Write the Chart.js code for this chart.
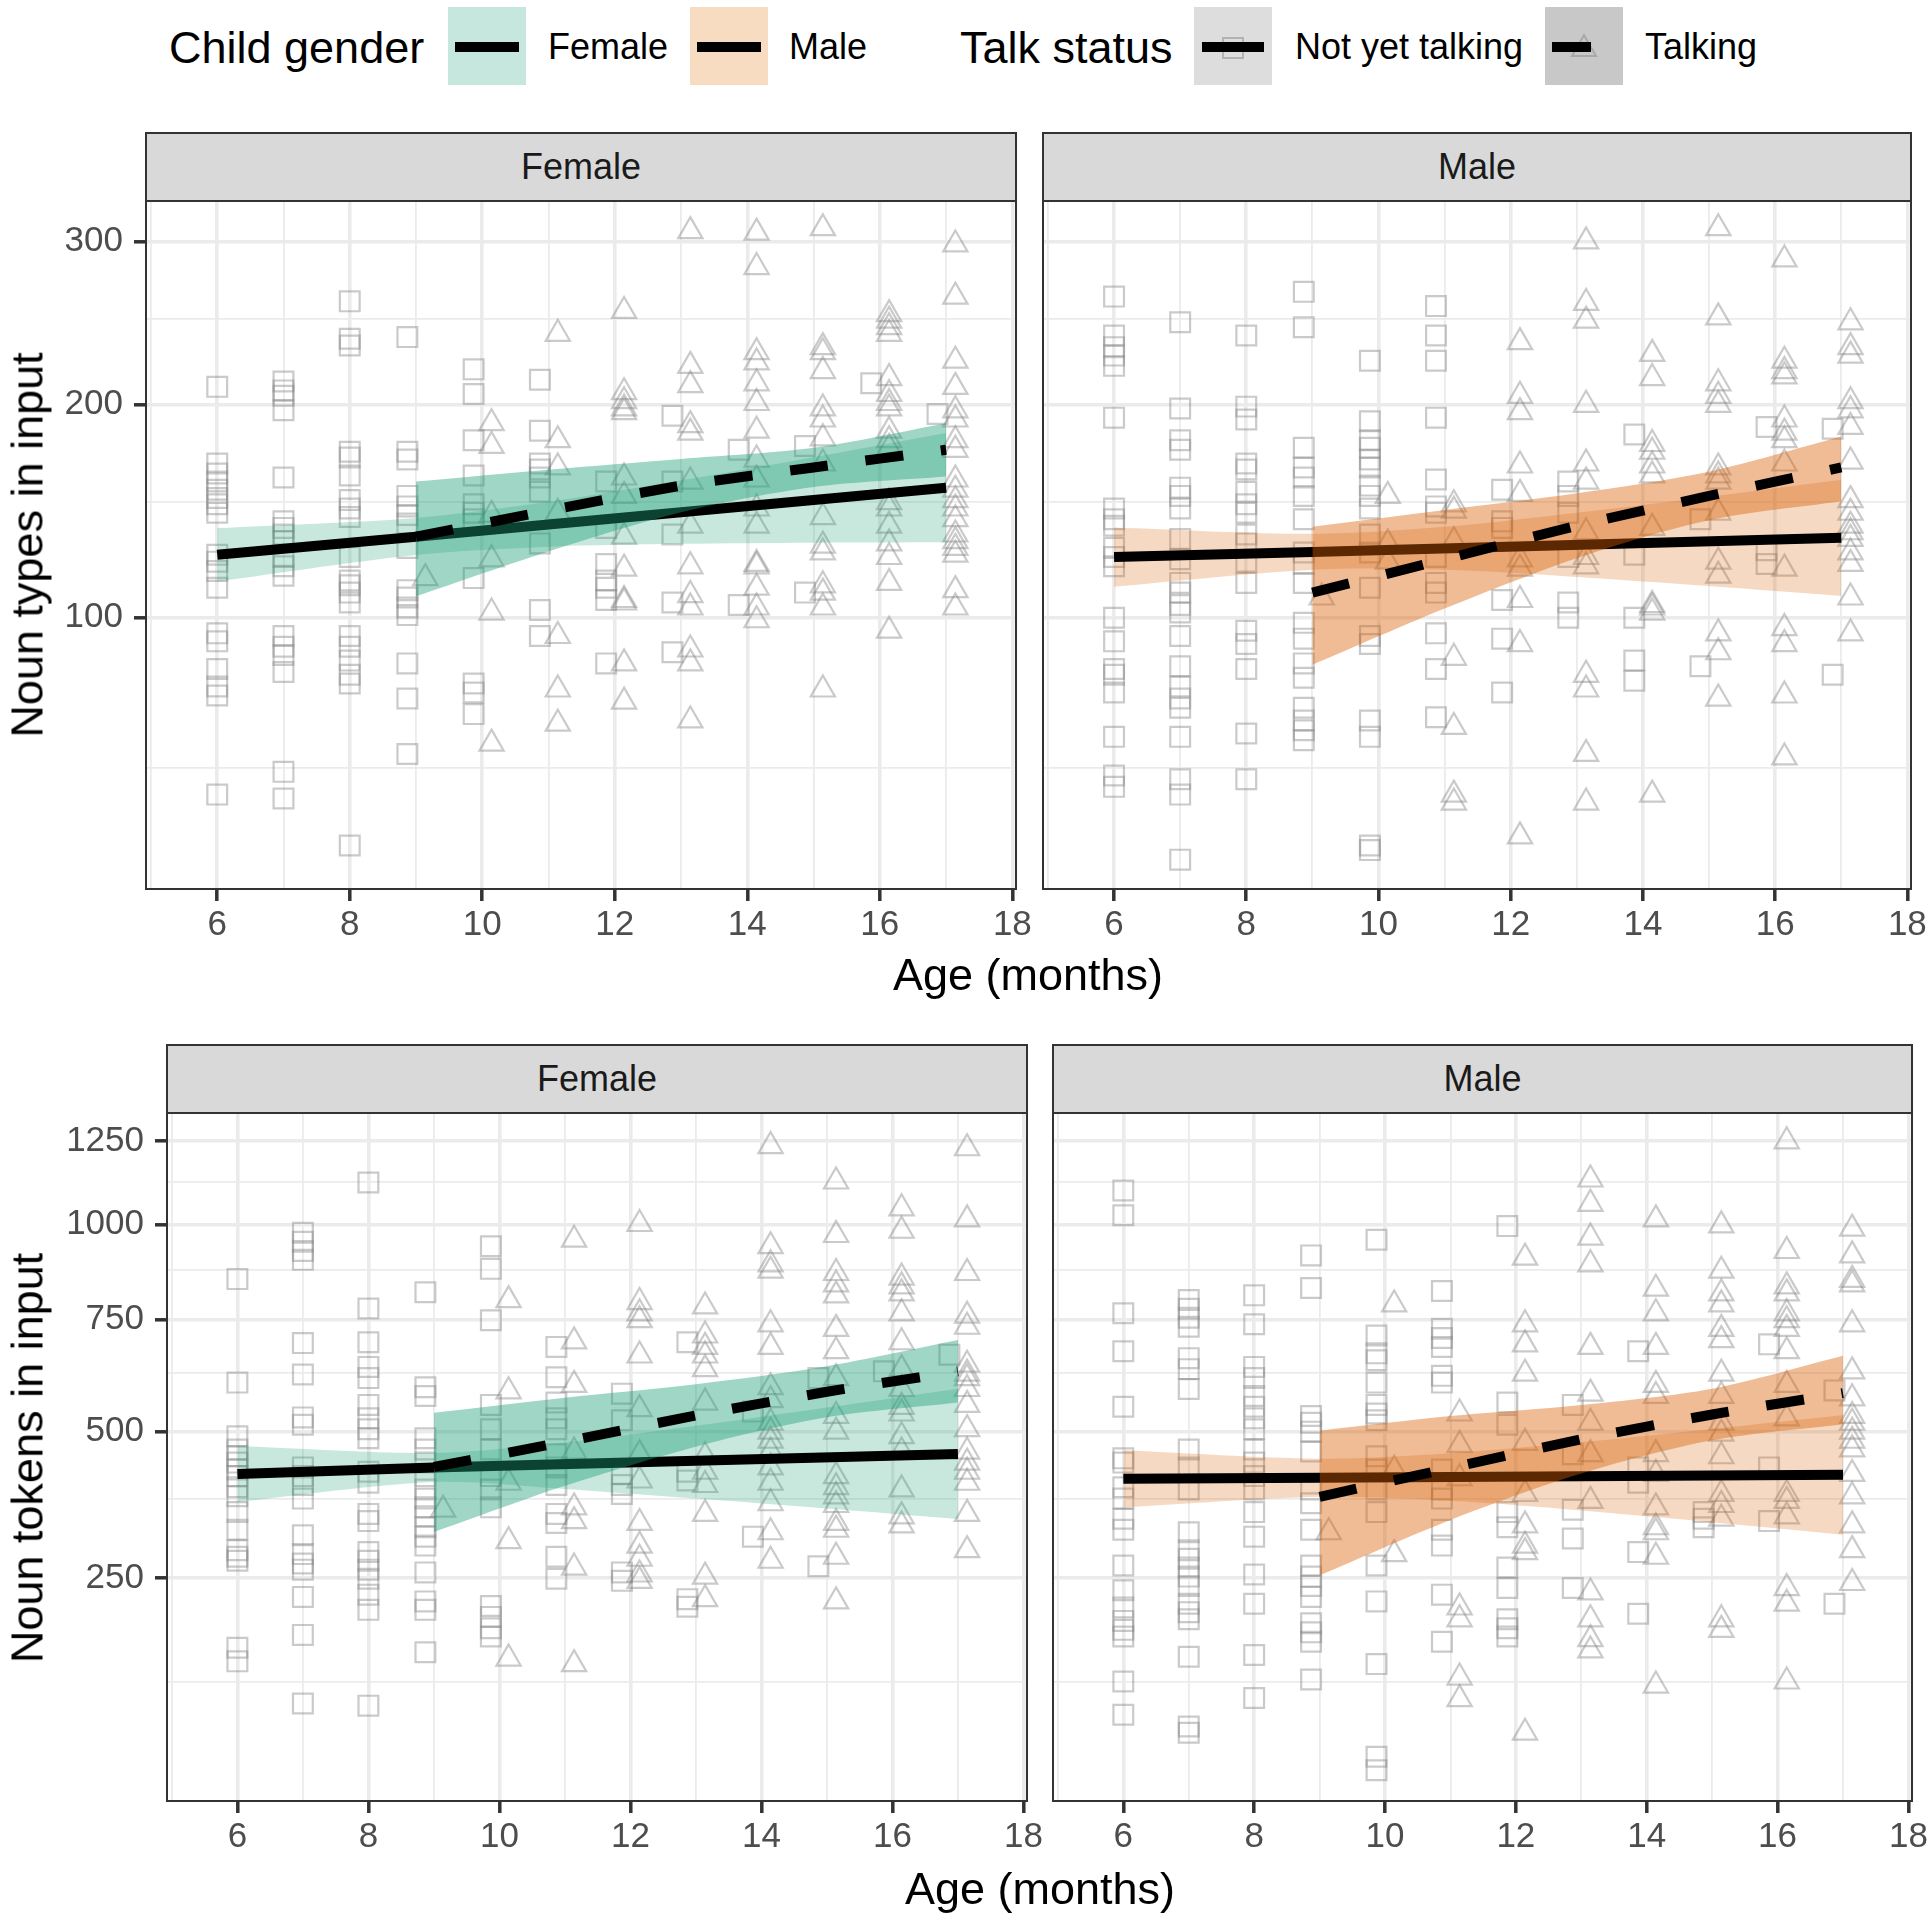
<!DOCTYPE html>
<html>
<head>
<meta charset="utf-8">
<script src="https://cdn.jsdelivr.net/npm/chart.js@4.4.0/dist/chart.umd.min.js"></script>
<style>
  html, body { margin: 0; padding: 0; background: #fff; }
  #page { position: relative; width: 1931px; height: 1920px; overflow: hidden; font-family: "Liberation Sans", Arial, sans-serif; }
  canvas { position: absolute; }
  .txt { position: absolute; white-space: nowrap; line-height: 1; transform: translate(0, -50%); color: #000; }
  .center { transform: translate(-50%, -50%); }
  .rot { transform: translate(-50%, -50%) rotate(-90deg); }
  .strip { position: absolute; background: #d9d9d9; border: 2px solid #333; box-sizing: border-box;
           display: flex; align-items: center; justify-content: center; font-size: 36px; color: #1a1a1a; }
  .key { position: absolute; top: 7px; width: 78px; height: 78px; }
  .bar { position: absolute; top: 42px; height: 10px; background: #000; }
</style>
</head>
<body>
<div id="page">
  <!-- legend -->
  <div class="txt" style="left:169px; top:47px; font-size:45px;">Child gender</div>
  <div class="key" style="left:448px; background:#c5e7dd;"></div>
  <div class="bar" style="left:455px; width:64px;"></div>
  <div class="txt" style="left:548px; top:47px; font-size:36px;">Female</div>
  <div class="key" style="left:690px; background:#f8dcc2;"></div>
  <div class="bar" style="left:697px; width:64px;"></div>
  <div class="txt" style="left:789px; top:47px; font-size:36px;">Male</div>

  <div class="txt" style="left:960px; top:47px; font-size:45px;">Talk status</div>
  <div class="key" style="left:1194px; background:#dddddd;"></div>
  <svg style="position:absolute; left:1221px; top:36px;" width="24" height="24">
    <rect x="2" y="2" width="20" height="20" fill="none" stroke="rgba(128,128,128,0.45)" stroke-width="2"/>
  </svg>
  <div class="bar" style="left:1202px; width:62px;"></div>
  <div class="txt" style="left:1295px; top:47px; font-size:36px;">Not yet talking</div>
  <div class="key" style="left:1545px; background:#c8c8c8;"></div>
  <svg style="position:absolute; left:1569px; top:32px;" width="30" height="28">
    <polygon points="15,3 27,24 3,24" fill="none" stroke="rgba(128,128,128,0.45)" stroke-width="2"/>
  </svg>
  <div class="bar" style="left:1552px; width:39px;"></div>
  <div class="txt" style="left:1645px; top:47px; font-size:36px;">Talking</div>

  <!-- strips -->
  <div class="strip" style="left:145px; top:132px; width:872px; height:70px;">Female</div>
  <div class="strip" style="left:1042px; top:132px; width:870px; height:70px;">Male</div>
  <div class="strip" style="left:166px; top:1044px; width:862px; height:70px;">Female</div>
  <div class="strip" style="left:1052px; top:1044px; width:861px; height:70px;">Male</div>

  <canvas id="tl" width="1057" height="800" style="left:0px; top:160px;"></canvas>
  <canvas id="tr" width="889" height="760" style="left:1042px; top:200px;"></canvas>
  <canvas id="bl" width="1068" height="800" style="left:0px; top:1072px;"></canvas>
  <canvas id="br" width="879" height="760" style="left:1052px; top:1112px;"></canvas>

  <!-- axis titles -->
  <div class="txt rot" style="left:27px; top:545px; font-size:45px;">Noun types in input</div>
  <div class="txt center" style="left:1028px; top:974px; font-size:45px;">Age (months)</div>
  <div class="txt rot" style="left:27px; top:1458px; font-size:45px;">Noun tokens in input</div>
  <div class="txt center" style="left:1040px; top:1888px; font-size:45px;">Age (months)</div>
</div>

<script>
const FONT = "'Liberation Sans', Arial, sans-serif";

// axis ticks
const xMajorTicks = [6, 8, 10, 12, 14, 16, 18];
const xMinorTicks = [5, 7, 9, 11, 13, 15, 17];
const typesMajorTicks = [100, 200, 300];
const typesMinorTicks = [50, 150, 250];
const tokensMajorTicks = [250, 500, 750, 1000, 1250];
const tokensMinorTicks = [125, 375, 625, 875, 1125];

// ages where the fitted lines / ribbons are given
const lineAgesNotYet = [6, 9, 17];
const lineAgesTalking = [9, 11, 13, 15, 17];
const bandAgesNotYet = [6, 9, 11, 13, 15, 17];
const bandAgesTalking = [9, 11, 13, 15, 17];

// ---- noun types, female ----
const typesFemaleNotYet = [
  [6, [210, 169, 164, 160, 156, 152, 149, 145, 126, 123, 119, 112, 94, 91, 81, 75, 72, 43]],
  [7, [213, 208, 205, 197, 162, 141, 138, 135, 132, 125, 121, 117, 93, 89, 86, 80, 49, 42]],
  [8, [261, 238, 234, 175, 172, 163, 151, 147, 143, 125, 115, 113, 110, 106, 93, 89, 84, 79, 76, 31]],
  [9, [239, 175, 171, 153, 148, 144, 140, 129, 111, 108, 104, 101, 83, 71, 54]],
  [10, [220, 206, 181, 163, 149, 145, 142, 116, 76, 73, 66]],
  [11, [214, 186, 169, 166, 162, 155, 131, 103, 93]],
  [12, [160, 138, 122, 115, 112, 107, 83]],
  [13, [194, 160, 135, 106, 87]],
  [14, [176, 105]],
  [15, [178, 110]],
  [16, [212]],
  [17, [195]]
];
const typesFemaleTalking = [
  [9, [116]],
  [10, [190, 178, 144, 124, 102, 57]],
  [11, [241, 181, 167, 145, 93, 74, 63]],
  [12, [255, 207, 202, 198, 196, 162, 153, 134, 120, 107, 106, 83, 70]],
  [13, [307, 222, 211, 189, 185, 160, 139, 121, 109, 104, 88, 83, 64]],
  [14, [306, 283, 230, 224, 212, 201, 186, 171, 161, 147, 139, 122, 121, 112, 104, 99]],
  [15, [309, 233, 230, 219, 198, 192, 182, 169, 143, 130, 127, 113, 110, 104, 74]],
  [16, [253, 249, 245, 241, 215, 206, 201, 198, 186, 181, 177, 150, 147, 139, 131, 125, 114, 95]],
  [17, [298, 264, 225, 210, 197, 192, 181, 176, 161, 156, 151, 147, 142, 135, 132, 129, 126, 111, 104]]
];
const typesFemaleLineNotYet = [126, 134, 157];
const typesFemaleLineTalking = [134, 146, 158, 167, 176];
const typesFemaleBandNotYetLo = [114.6, 125.9, 129.5, 130.8, 131.3, 131.5];
const typesFemaleBandNotYetHi = [137.9, 142.6, 150.2, 160.6, 172.2, 184.8];
const typesFemaleBandTalkingLo = [108.5, 127.4, 145.2, 157.3, 162.5];
const typesFemaleBandTalkingHi = [160, 165.9, 171.3, 177, 190];

// ---- noun types, male ----
const typesMaleNotYet = [
  [6, [264, 240, 233, 228, 222, 193, 147, 142, 139, 129, 125, 121, 100, 91, 81, 79, 73, 59, 48, 45]],
  [7, [248, 198, 181, 176, 157, 153, 147, 133, 124, 114, 110, 105, 102, 93, 82, 75, 71, 68, 59, 47, 43, 28]],
  [8, [240, 199, 192, 169, 166, 155, 149, 145, 135, 131, 123, 114, 95, 90, 81, 60, 47]],
  [9, [267, 245, 177, 167, 162, 153, 142, 127, 122, 114, 98, 92, 83, 78, 68, 64, 61, 58]],
  [10, [225, 191, 181, 177, 171, 167, 158, 153, 147, 135, 127, 112, 93, 90, 64, 59, 31, 30]],
  [11, [258, 240, 225, 193, 161, 148, 145, 125, 114, 110, 94, 81, 65]],
  [12, [156, 141, 138, 107, 92, 73]],
  [13, [160, 153, 145, 125, 106, 100]],
  [14, [184, 126, 100, 84, 77]],
  [15, [142, 82]],
  [16, [188, 128, 122]],
  [17, [187, 79]]
];
const typesMaleTalking = [
  [9, [108]],
  [10, [153, 131, 123]],
  [11, [149, 146, 132, 85, 62, 43, 41]],
  [12, [236, 205, 196, 168, 154, 124, 120, 107, 90, 33]],
  [13, [300, 260, 249, 200, 169, 160, 136, 125, 121, 79, 74, 54, 41]],
  [14, [229, 215, 179, 175, 168, 163, 138, 105, 104, 102, 43]],
  [15, [309, 251, 212, 205, 200, 167, 163, 160, 145, 123, 117, 94, 87, 71]],
  [16, [288, 225, 219, 216, 192, 185, 181, 169, 120, 96, 90, 72, 53]],
  [17, [248, 233, 228, 202, 197, 188, 170, 151, 145, 139, 136, 133, 127, 122, 108, 94]]
];
const typesMaleLineNotYet = [125, 127.2, 133.5];
const typesMaleLineTalking = [110, 124, 139, 153, 167];
const typesMaleBandNotYetLo = [112.4, 119.5, 119.5, 116.5, 112.7, 108.6];
const typesMaleBandNotYetHi = [138.2, 135.3, 138.5, 145, 152.6, 160.9];
const typesMaleBandTalkingLo = [82.5, 103.6, 124.5, 141.5, 150.4];
const typesMaleBandTalkingHi = [138.5, 146.3, 154.3, 164.9, 182.9];

// ---- noun tokens, female ----
const tokensFemaleNotYet = [
  [6, [852, 603, 491, 465, 452, 440, 427, 415, 395, 379, 352, 323, 291, 281, 275, 161, 146]],
  [7, [977, 952, 927, 903, 693, 621, 529, 514, 431, 415, 399, 375, 314, 285, 271, 262, 224, 176, 104]],
  [8, [1123, 777, 695, 638, 613, 555, 527, 505, 487, 423, 403, 349, 337, 288, 275, 262, 249, 227, 207, 102]],
  [9, [818, 593, 574, 487, 465, 440, 415, 391, 375, 360, 345, 327, 312, 298, 258, 218, 207, 156]],
  [10, [940, 879, 748, 555, 505, 465, 415, 391, 360, 212, 198, 184, 174]],
  [11, [684, 615, 560, 527, 505, 456, 431, 399, 349, 334, 281, 249]],
  [12, [579, 523, 419, 399, 383, 258, 246]],
  [13, [695, 423, 407, 221, 211]],
  [14, [541, 312]],
  [15, [613, 267]],
  [16, [628]],
  [17, [666]]
];
const tokensFemaleTalking = [
  [9, [356]],
  [10, [798, 584, 403, 305, 149]],
  [11, [958, 697, 598, 461, 360, 337, 265, 143]],
  [12, [1002, 793, 765, 748, 664, 546, 456, 407, 334, 298, 278, 255, 246]],
  [13, [782, 711, 684, 664, 633, 560, 452, 423, 399, 349, 252, 221]],
  [14, [1235, 940, 891, 874, 738, 684, 593, 565, 518, 500, 482, 461, 431, 403, 367, 319, 275]],
  [15, [1126, 971, 868, 838, 810, 727, 674, 613, 532, 500, 415, 395, 379, 364, 334, 323, 281, 218]],
  [16, [1047, 983, 856, 833, 815, 765, 695, 633, 589, 551, 537, 491, 461, 391, 345, 330]],
  [17, [1228, 1015, 868, 759, 732, 643, 623, 613, 589, 555, 505, 461, 440, 423, 403, 349, 291]]
];
const tokensFemaleLineNotYet = [419, 431, 456.5];
const tokensFemaleLineTalking = [432, 480, 533, 583, 628];
const tokensFemaleBandNotYetLo = [369.4, 404.4, 392, 375, 358, 340.3];
const tokensFemaleBandNotYetHi = [471.8, 458.4, 478.5, 511.9, 549.5, 589.8];
const tokensFemaleBandTalkingLo = [319.3, 397.5, 470.5, 529.1, 560];
const tokensFemaleBandTalkingHi = [538.4, 570.3, 599.5, 639.5, 700];

// ---- noun tokens, male ----
const tokensMaleNotYet = [
  [6, [1099, 1027, 765, 674, 551, 448, 440, 395, 375, 341, 323, 268, 233, 210, 193, 182, 174, 125, 94]],
  [7, [798, 776, 754, 732, 658, 633, 589, 465, 431, 391, 319, 291, 278, 265, 252, 239, 215, 204, 195, 151, 84, 79]],
  [8, [810, 738, 638, 613, 574, 551, 527, 505, 465, 440, 415, 391, 352, 312, 255, 215, 153, 109]],
  [9, [915, 829, 532, 518, 500, 461, 391, 367, 323, 268, 252, 239, 224, 190, 179, 168, 127]],
  [10, [958, 711, 669, 653, 603, 555, 537, 523, 452, 427, 391, 352, 268, 218, 143, 61, 52]],
  [11, [821, 727, 705, 684, 618, 603, 427, 391, 375, 323, 298, 227, 168]],
  [12, [996, 560, 514, 352, 327, 265, 236, 195, 184, 174]],
  [13, [555, 456, 356, 309, 236]],
  [14, [674, 431, 403, 288, 202]],
  [15, [352, 341, 327]],
  [16, [690, 431, 337]],
  [17, [586, 215]]
];
const tokensMaleTalking = [
  [9, [319]],
  [10, [787, 427, 285]],
  [11, [537, 474, 411, 210, 195, 129, 108]],
  [12, [909, 738, 690, 623, 478, 383, 330, 298, 288, 79]],
  [13, [1132, 1060, 964, 891, 684, 579, 518, 456, 371, 230, 195, 171, 158]],
  [14, [1015, 827, 765, 684, 598, 574, 456, 419, 360, 327, 319, 281, 121]],
  [15, [998, 874, 815, 787, 727, 700, 623, 574, 518, 496, 452, 383, 364, 341, 195, 182]],
  [16, [1250, 927, 833, 815, 765, 748, 727, 674, 598, 527, 383, 371, 345, 236, 215, 125]],
  [17, [989, 915, 850, 838, 738, 628, 569, 532, 518, 500, 482, 465, 419, 379, 330, 291, 243]]
];
const tokensMaleLineNotYet = [410, 412, 417.4];
const tokensMaleLineTalking = [378, 430, 485, 535, 580];
const tokensMaleBandNotYetLo = [359.8, 378.1, 371.2, 354.7, 335.2, 315.1];
const tokensMaleBandNotYetHi = [463.4, 447.4, 457.7, 479.3, 505.6, 534.1];
const tokensMaleBandTalkingLo = [253.8, 339, 419.8, 482.9, 515];
const tokensMaleBandTalkingHi = [502, 531.7, 554.9, 589.8, 663.6];

// square-root y axis, like scale_y_sqrt
const LinearScale = Chart.LinearScale || Chart.registry.getScale('linear');
class SqrtScale extends LinearScale {
  getPixelForValue(value) {
    const a = Math.sqrt(this.min), b = Math.sqrt(this.max);
    return this.getPixelForDecimal((Math.sqrt(Math.max(value, 0)) - a) / (b - a));
  }
  getValueForPixel(pixel) {
    const a = Math.sqrt(this.min), b = Math.sqrt(this.max);
    const s = a + this.getDecimalForPixel(pixel) * (b - a);
    return s * s;
  }
}
SqrtScale.id = 'sqrt';
SqrtScale.defaults = {};
Chart.register(SqrtScale);

const panelBorder = {
  id: 'panelBorder',
  afterDraw(chart) {
    const { ctx, chartArea: a } = chart;
    ctx.save();
    ctx.strokeStyle = '#333333';
    ctx.lineWidth = 2;
    ctx.strokeRect(a.left + 1, a.top + 1, a.right - a.left - 2, a.bottom - a.top - 2);
    ctx.restore();
  }
};

const TEAL = [27, 158, 119];
const ORANGE = [217, 95, 2];
const rgba = (c, a) => `rgba(${c[0]},${c[1]},${c[2]},${a})`;
const POINT_COLOR = 'rgba(128,128,128,0.42)';

function pointsOf(columns, talking) {
  const out = [];
  columns.forEach(([age, values]) => {
    const dx = age < 9 ? 0 : (talking ? 0.14 : -0.13);
    values.forEach(v => out.push({ x: age + dx, y: v }));
  });
  return out;
}
const series = (ages, vals) => ages.map((a, i) => ({ x: a, y: vals[i] }));
const isIn = (list, c) => c.tick && list.includes(c.tick.value);

function makePanel(id, cfg) {
  const bandStyle = { borderColor: 'rgba(0,0,0,0)', borderWidth: 0, pointRadius: 0, tension: 0.3 };
  new Chart(document.getElementById(id), {
    type: 'line',
    data: {
      datasets: [
        { type: 'scatter', data: pointsOf(cfg.notYet, false), pointStyle: 'rect', pointRadius: 14,
          pointBorderWidth: 2.2, pointBorderColor: POINT_COLOR, pointBackgroundColor: 'rgba(0,0,0,0)', order: 6 },
        { type: 'scatter', data: pointsOf(cfg.talking, true), pointStyle: 'triangle', pointRadius: 14,
          pointBorderWidth: 2.2, pointBorderColor: POINT_COLOR, pointBackgroundColor: 'rgba(0,0,0,0)', order: 6 },
        { data: series(bandAgesNotYet, cfg.bandNotYetHi), fill: 3, backgroundColor: rgba(cfg.color, 0.24), order: 5, ...bandStyle },
        { data: series(bandAgesNotYet, cfg.bandNotYetLo), fill: false, order: 5, ...bandStyle },
        { data: series(lineAgesNotYet, cfg.lineNotYet), borderColor: '#000', borderWidth: 10,
          pointRadius: 0, fill: false, order: 4 },
        { data: series(bandAgesTalking, cfg.bandTalkingHi), fill: 6, backgroundColor: rgba(cfg.color, 0.42), order: 3, ...bandStyle },
        { data: series(bandAgesTalking, cfg.bandTalkingLo), fill: false, order: 3, ...bandStyle },
        { data: series(lineAgesTalking, cfg.lineTalking), borderColor: '#000', borderWidth: 10,
          borderDash: [38, 38], pointRadius: 0, fill: false, tension: 0.2, order: 2 }
      ]
    },
    options: {
      responsive: false,
      animation: false,
      layout: { autoPadding: false, padding: { left: 0, top: cfg.padTop, bottom: 0, right: cfg.padRight } },
      plugins: { legend: { display: false }, tooltip: { enabled: false }, title: { display: false } },
      scales: {
        x: {
          type: 'linear', min: 4.91, max: 18.07,
          afterBuildTicks: s => { s.ticks = xMinorTicks.concat(xMajorTicks).sort((a, b) => a - b).map(v => ({ value: v })); },
          afterFit: s => { s.height = 70; },
          border: { display: false },
          grid: {
            color: '#ebebeb',
            lineWidth: c => isIn(xMajorTicks, c) ? 3.6 : 1.8,
            tickLength: 11,
            tickWidth: 3.5,
            tickColor: c => isIn(xMajorTicks, c) ? '#333333' : 'rgba(0,0,0,0)'
          },
          ticks: {
            autoSkip: false, maxRotation: 0, padding: 3,
            color: '#4d4d4d', font: { family: FONT, size: 35 },
            callback: v => xMajorTicks.includes(v) ? String(v) : ''
          }
        },
        y: {
          type: 'sqrt', min: cfg.yMin, max: cfg.yMax,
          afterBuildTicks: s => { s.ticks = cfg.minor.concat(cfg.major).sort((a, b) => a - b).map(v => ({ value: v })); },
          afterFit: s => { s.width = cfg.axisWidth; },
          border: { display: false },
          grid: {
            color: '#ebebeb',
            lineWidth: c => isIn(cfg.major, c) ? 3.6 : 1.8,
            drawTicks: cfg.axisWidth > 0,
            tickLength: 11,
            tickWidth: 3.5,
            tickColor: c => isIn(cfg.major, c) ? '#333333' : 'rgba(0,0,0,0)'
          },
          ticks: {
            display: cfg.axisWidth > 0,
            autoSkip: false, padding: 11,
            color: '#4d4d4d', font: { family: FONT, size: 35 },
            callback: v => cfg.major.includes(v) ? String(v) : ''
          }
        }
      }
    },
    plugins: [panelBorder]
  });
}

const typesAxis = { yMin: 22.1, yMax: 328.6, major: typesMajorTicks, minor: typesMinorTicks };
const tokensAxis = { yMin: 33.5, yMax: 1344.4, major: tokensMajorTicks, minor: tokensMinorTicks };

makePanel('tl', { ...typesAxis, color: TEAL, axisWidth: 145, padRight: 40, padTop: 40,
  notYet: typesFemaleNotYet, talking: typesFemaleTalking,
  lineNotYet: typesFemaleLineNotYet, lineTalking: typesFemaleLineTalking,
  bandNotYetLo: typesFemaleBandNotYetLo, bandNotYetHi: typesFemaleBandNotYetHi,
  bandTalkingLo: typesFemaleBandTalkingLo, bandTalkingHi: typesFemaleBandTalkingHi });

makePanel('tr', { ...typesAxis, color: ORANGE, axisWidth: 0, padRight: 19, padTop: 0,
  notYet: typesMaleNotYet, talking: typesMaleTalking,
  lineNotYet: typesMaleLineNotYet, lineTalking: typesMaleLineTalking,
  bandNotYetLo: typesMaleBandNotYetLo, bandNotYetHi: typesMaleBandNotYetHi,
  bandTalkingLo: typesMaleBandTalkingLo, bandTalkingHi: typesMaleBandTalkingHi });

makePanel('bl', { ...tokensAxis, color: TEAL, axisWidth: 166, padRight: 40, padTop: 40,
  notYet: tokensFemaleNotYet, talking: tokensFemaleTalking,
  lineNotYet: tokensFemaleLineNotYet, lineTalking: tokensFemaleLineTalking,
  bandNotYetLo: tokensFemaleBandNotYetLo, bandNotYetHi: tokensFemaleBandNotYetHi,
  bandTalkingLo: tokensFemaleBandTalkingLo, bandTalkingHi: tokensFemaleBandTalkingHi });

makePanel('br', { ...tokensAxis, color: ORANGE, axisWidth: 0, padRight: 18, padTop: 0,
  notYet: tokensMaleNotYet, talking: tokensMaleTalking,
  lineNotYet: tokensMaleLineNotYet, lineTalking: tokensMaleLineTalking,
  bandNotYetLo: tokensMaleBandNotYetLo, bandNotYetHi: tokensMaleBandNotYetHi,
  bandTalkingLo: tokensMaleBandTalkingLo, bandTalkingHi: tokensMaleBandTalkingHi });
</script>
</body>
</html>
